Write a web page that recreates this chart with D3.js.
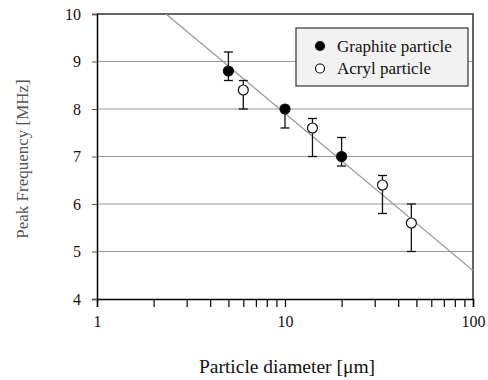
<!DOCTYPE html>
<html>
<head>
<meta charset="utf-8">
<script src="https://cdn.jsdelivr.net/npm/d3@7"></script>
<style>
  body { margin: 0; background: #fff; }
  svg text { font-family: "Liberation Serif", "DejaVu Serif", serif; }
</style>
</head>
<body>
<div id="vis"></div>
<script>
const FRAME_WIDTH = 488;
const FRAME_HEIGHT = 380;
const MARGINS = {top: 14, bottom: 81, left: 97, right: 15};
const VIS_WIDTH = FRAME_WIDTH - MARGINS.left - MARGINS.right;
const VIS_HEIGHT = FRAME_HEIGHT - MARGINS.top - MARGINS.bottom;
const SERIF = "Liberation Serif";

// data
const graphiteDiameter = [5, 10, 20];
const graphiteFreq = [8.8, 8.0, 7.0];
const graphiteErrHigh = [9.2, 8.05, 7.4];
const graphiteErrLow = [8.6, 7.6, 6.8];

const acrylDiameter = [6, 14, 33, 47];
const acrylFreq = [8.4, 7.6, 6.4, 5.6];
const acrylErrHigh = [8.6, 7.8, 6.6, 6.0];
const acrylErrLow = [8.0, 7.0, 5.8, 5.0];

// fitted trend line end points
const trendX = [2.33, 100];
const trendY = [10, 4.6];

const yTicks = [4, 5, 6, 7, 8, 9, 10];
const xLabelTicks = [1, 10, 100];
const xMinorTicks = [1, 2, 3, 4, 5, 6, 7, 8, 9, 10, 20, 30, 40, 50, 60, 70, 80, 90, 100];

const FRAME1 = d3.select("#vis")
  .append("svg")
    .attr("width", FRAME_WIDTH)
    .attr("height", FRAME_HEIGHT);

const X_SCALE = d3.scaleLog().domain([1, 100]).range([0, VIS_WIDTH]);
const Y_SCALE = d3.scaleLinear().domain([4, 10]).range([VIS_HEIGHT, 0]);

const plot = FRAME1.append("g")
  .attr("transform", `translate(${MARGINS.left},${MARGINS.top})`);

// gridlines
plot.append("g")
  .selectAll("line")
  .data(yTicks.slice(1, -1))
  .enter()
  .append("line")
    .attr("x1", 0)
    .attr("x2", VIS_WIDTH)
    .attr("y1", d => Y_SCALE(d))
    .attr("y2", d => Y_SCALE(d))
    .attr("stroke", "#999")
    .attr("stroke-width", 1.2);

// frame top/right
plot.append("path")
  .attr("d", `M0,0H${VIS_WIDTH}V${VIS_HEIGHT}`)
  .attr("fill", "none")
  .attr("stroke", "#333")
  .attr("stroke-width", 1.5);

// trend line
const clipId = "plotclip";
FRAME1.append("clipPath").attr("id", clipId)
  .append("rect").attr("width", VIS_WIDTH).attr("height", VIS_HEIGHT);

plot.append("line")
  .attr("clip-path", `url(#${clipId})`)
  .attr("x1", X_SCALE(trendX[0]))
  .attr("y1", Y_SCALE(trendY[0]))
  .attr("x2", X_SCALE(trendX[1]))
  .attr("y2", Y_SCALE(trendY[1]))
  .attr("stroke", "#9a9a9a")
  .attr("stroke-width", 1.3);

// y axis
const yAxis = plot.append("g")
  .call(d3.axisLeft(Y_SCALE).tickValues(yTicks).tickSize(5).tickPadding(11).tickFormat(d3.format("d")));
yAxis.attr("font-family", SERIF);
yAxis.select(".domain").attr("stroke", "#000").attr("stroke-width", 1.5);
yAxis.selectAll(".tick line").attr("stroke", "#555");
yAxis.selectAll("text").attr("font-size", 16).attr("fill", "#111")
  .attr("font-family", SERIF);

// x axis with minor ticks
const xAxis = plot.append("g")
  .attr("transform", `translate(0,${VIS_HEIGHT})`)
  .call(d3.axisBottom(X_SCALE).tickValues(xMinorTicks).tickSize(8).tickPadding(9)
    .tickFormat(d => xLabelTicks.includes(d) ? d : ""));
xAxis.attr("font-family", SERIF);
xAxis.select(".domain").attr("stroke", "#000").attr("stroke-width", 1.5);
xAxis.selectAll(".tick line").attr("stroke", "#000").attr("stroke-width", 1.2);
xAxis.selectAll("text").attr("font-size", 16).attr("fill", "#111")
  .attr("font-family", SERIF);

// error bars + points
function drawSeries(xs, ys, hi, lo, filled) {
  const data = xs.map((x, i) => ({x: x, y: ys[i], hi: hi[i], lo: lo[i]}));
  const g = plot.append("g");
  const bars = g.selectAll("g.err").data(data).enter().append("g");
  bars.append("line")
    .attr("x1", d => X_SCALE(d.x)).attr("x2", d => X_SCALE(d.x))
    .attr("y1", d => Y_SCALE(d.hi)).attr("y2", d => Y_SCALE(d.lo))
    .attr("stroke", "#111").attr("stroke-width", 1.3);
  ["hi", "lo"].forEach(k => {
    bars.append("line")
      .attr("x1", d => X_SCALE(d.x) - 4.5).attr("x2", d => X_SCALE(d.x) + 4.5)
      .attr("y1", d => Y_SCALE(d[k])).attr("y2", d => Y_SCALE(d[k]))
      .attr("stroke", "#111").attr("stroke-width", 1.3);
  });
  g.selectAll("circle").data(data).enter().append("circle")
    .attr("cx", d => X_SCALE(d.x))
    .attr("cy", d => Y_SCALE(d.y))
    .attr("r", 5)
    .attr("fill", filled ? "#000" : "#fff")
    .attr("stroke", "#111")
    .attr("stroke-width", 1.2);
}
drawSeries(graphiteDiameter, graphiteFreq, graphiteErrHigh, graphiteErrLow, true);
drawSeries(acrylDiameter, acrylFreq, acrylErrHigh, acrylErrLow, false);

// legend
const legend = FRAME1.append("g").attr("transform", "translate(296,28)");
legend.append("rect")
  .attr("width", 172).attr("height", 58)
  .attr("fill", "#f2f2f2").attr("stroke", "#333").attr("stroke-width", 1.2);
const legendItems = [{label: "Graphite particle", filled: true}, {label: "Acryl particle", filled: false}];
legendItems.forEach((it, i) => {
  legend.append("circle")
    .attr("cx", 24).attr("cy", 18 + i * 22.5).attr("r", 4.5)
    .attr("fill", it.filled ? "#000" : "#fff")
    .attr("stroke", "#111").attr("stroke-width", 1.2);
  legend.append("text")
    .attr("x", 41).attr("y", 24 + i * 22)
    .attr("font-family", SERIF)
    .attr("font-size", 17).attr("fill", "#111")
    .text(it.label);
});

// axis titles
FRAME1.append("text")
  .attr("x", MARGINS.left + VIS_WIDTH / 2 + 2)
  .attr("y", 373)
  .attr("text-anchor", "middle")
  .attr("font-family", SERIF)
  .attr("font-size", 19.5).attr("fill", "#111")
  .text("Particle diameter [\u03bcm]");

FRAME1.append("text")
  .attr("transform", "translate(28,159) rotate(-90)")
  .attr("text-anchor", "middle")
  .attr("font-family", SERIF)
  .attr("font-size", 17).attr("fill", "#555")
  .text("Peak Frequency [MHz]");
</script>
</body>
</html>
